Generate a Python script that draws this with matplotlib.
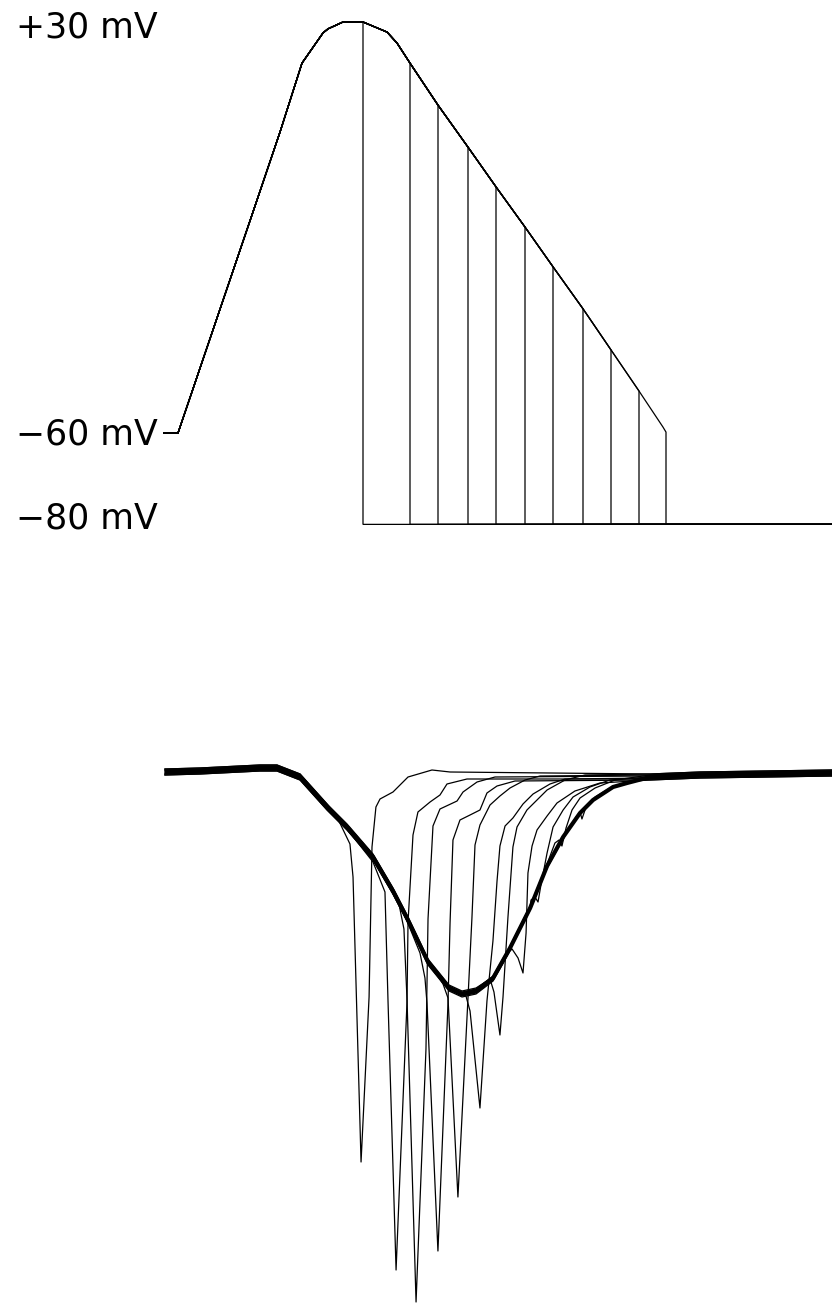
import numpy as np
import matplotlib
matplotlib.use("Agg")
import matplotlib.pyplot as plt

# ---- Voltage command: action-potential waveform (ms, mV) ----
ap_t = [-7, 0, 39.5, 51, 62, 72.5, 75, 82.5, 92.5, 104.5, 109.5, 116, 130, 145,
        159, 173.5, 187.5, 202.5, 216.5, 230.5, 242.5, 244]
ap_v = [-60, -60, -9, 5.9, 21.0, 27.6, 28.5, 30, 30, 27.8, 25.4, 21.0, 11.8, 2.6,
        -6.1, -14.9, -23.6, -32.8, -41.8, -50.8, -58.7, -59.8]
step_times = [92.5, 116, 130, 145, 159, 173.5, 187.5, 202.5, 216.5, 230.5, 244]
v_step = -80
v_end_t = 327
level_labels = ["+30 mV", "\u221260 mV", "\u221280 mV"]
level_values = [30, -60, -80]

# ---- Membrane currents (ms, pA) ----
# full action-potential current
thick_t = [-41.7, -17.7, 23.4, 35.1, 50.9, 69.4, 83.1, 100.9, 114.6, 124.2, 138.6,
           153.0, 161.9, 171.5, 183.2, 194.8, 208.6, 220.2, 231.2, 242.8, 251.7,
           265.4, 275.0, 290.8, 325.1, 415.5]
thick_i = [0, 10, 40, 40, -50, -350, -550, -850, -1190, -1460, -1900,
           -2160, -2220, -2190, -2060, -1760, -1360, -940, -650, -410, -280,
           -150, -110, -50, -30, -10]

# tail currents after each repolarising step
tail_times = [
    [76.2, 85.1, 87.2, 92.7, 98.2, 100.2, 102.9, 105.7, 114.6, 124.9, 141.3, 153.7],
    [100.9, 109.1, 111.2, 116.7, 124.2, 124.9, 128.3, 131.7, 140.0, 146.8, 151.6, 165.3],
    [118.0, 122.1, 124.2, 130.4, 137.2, 138.6, 142.0, 146.8, 158.5, 162.6, 172.2, 184.5],
    [133.1, 136.5, 137.9, 145.4, 152.3, 153.7, 155.7, 160.5, 167.4, 174.2, 179.0, 185.9, 198.2],
    [148.9, 152.3, 159.1, 166.0, 168.7, 170.8, 174.2, 181.1, 187.9, 194.8, 205.1, 215.4],
    [164.6, 167.4, 174.2, 179.0, 183.1, 185.9, 187.9, 191.4, 196.8, 203.7, 210.6, 222.2, 232.5],
    [181.1, 183.8, 187.9, 190.0, 193.4, 196.8, 199.6, 206.4, 213.3, 220.2, 232.5, 246.2],
    [196.2, 200.3, 203.7, 205.8, 207.1, 209.9, 213.3, 220.2, 227.0, 239.3, 256.5],
    [209.2, 211.9, 214.0, 216.0, 220.2, 224.3, 231.2, 238.0, 249.6, 263.3],
    [225.6, 228.4, 230.4, 233.2, 237.3, 242.8, 253.1, 266.8],
    [240.0, 242.8, 244.1, 246.9, 253.1, 263.3, 277.0],
]
tail_currents = [
    [-480, -750, -1080, -3930, -2280, -780, -380, -300, -230, -80, -10, -30],
    [-880, -1180, -2280, -4960, -2280, -1480, -610, -380, -280, -210, -100, -50],
    [-1280, -1580, -2280, -5310, -2780, -1480, -550, -380, -300, -210, -110, -60],
    [-1780, -2030, -2280, -4760, -2280, -1480, -650, -450, -400, -350, -180, -110, -60],
    [-2140, -2280, -4270, -2280, -1480, -750, -550, -350, -260, -180, -100, -60],
    [-2230, -2380, -3350, -2280, -1680, -1080, -730, -530, -450, -310, -210, -110, -60],
    [-2100, -2230, -2660, -2280, -1480, -780, -580, -410, -310, -210, -110, -60],
    [-1740, -1830, -1980, -1580, -980, -710, -550, -410, -280, -160, -80],
    [-1280, -1250, -1300, -1130, -810, -550, -380, -250, -150, -80],
    [-730, -700, -760, -580, -400, -280, -180, -100],
    [-430, -380, -450, -330, -230, -140, -80],
]
# holding-current differences between the individual sweeps (pA)
sweep_offsets = [30, -20, 10, -30, 20, -10, 30, -30, 0, 20, -20]

W, H, DPI = 832, 1305, 100
fig = plt.figure(figsize=(W / DPI, H / DPI), dpi=DPI)
fig.patch.set_facecolor("white")

# Both panels share the full canvas; limits place them top and bottom.
ax_v = fig.add_axes([0, 0, 1, 1])
ax_i = fig.add_axes([0, 0, 1, 1])
for ax in (ax_v, ax_i):
    ax.set_axis_off()
    ax.patch.set_alpha(0)

# voltage panel: 2 px per ms, 4.567 px per mV
ax_v.set_xlim(-89, 327)
ax_v.set_ylim(30 - (H - 22) / 4.567, 30 + 22 / 4.567)

# current panel: 1.459 px per ms, 0.1 px per pA
ax_i.set_xlim(-225.8 / 1.459, (W - 225.8) / 1.459)
ax_i.set_ylim((772 - H) * 10, 772 * 10)

ap_t_arr = np.array(ap_t)
ap_v_arr = np.array(ap_v)
for ts in step_times:
    keep = ap_t_arr <= ts
    t = np.concatenate([ap_t_arr[keep], [ts, v_end_t]])
    v = np.concatenate([ap_v_arr[keep], [v_step, v_step]])
    ax_v.plot(t, v, color="black", lw=0.9, solid_joinstyle="miter")

# level labels, right-aligned just left of the waveform start
label_baseline_offset = [-3.5, -2.6, -0.8]
for txt, val, off in zip(level_labels, level_values, label_baseline_offset):
    ax_v.text(-10, val + off, txt, ha="right", va="baseline",
              fontsize=25, family="DejaVu Sans", color="black")

thick_t_arr = np.array(thick_t)
thick_i_arr = np.array(thick_i)
for tt, ii, off in zip(tail_times, tail_currents, sweep_offsets):
    pre = thick_t_arr < tt[0]
    post = thick_t_arr > max(tt[-1], 290)
    t = np.concatenate([thick_t_arr[pre], tt, thick_t_arr[post]])
    i = np.concatenate([thick_i_arr[pre], ii, thick_i_arr[post]]) + off
    ax_i.plot(t, i, color="black", lw=0.9)

ax_i.plot(thick_t_arr, thick_i_arr, color="black", lw=3.0,
          solid_capstyle="butt")

fig.savefig("out.png", dpi=DPI, facecolor="white")
